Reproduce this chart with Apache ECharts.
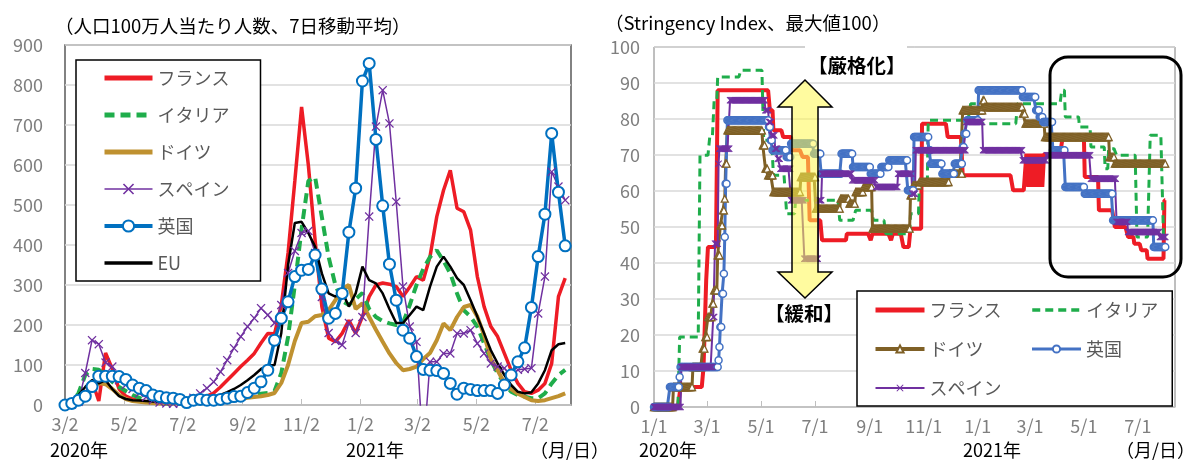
<!DOCTYPE html>
<html>
<head>
<meta charset="utf-8">
<script src="https://cdn.jsdelivr.net/npm/echarts@6/dist/echarts.min.js"></script>
<style>
html, body { margin: 0; padding: 0; background: #fff; }
#chart { width: 1190px; height: 462px; }
</style>
</head>
<body>
<div id="chart"></div>
<script>
// 新規感染者数（人口100万人当たり、7日移動平均）、2020/3/2から週次
const franceCases = [0, 1, 5, 25, 60, 10, 130, 90, 40, 22,
  15, 10, 8, 6, 5, 6, 7, 8, 10, 12,
  16, 22, 30, 45, 62, 79, 96, 112, 129, 155,
  179, 178, 250, 380, 560, 745, 600, 412, 246, 167,
  158, 179, 212, 179, 221, 271, 300, 305, 302, 296,
  271, 295, 321, 312, 371, 471, 537, 587, 492, 483,
  437, 321, 246, 196, 171, 129, 87, 54, 33, 29,
  37, 54, 104, 271, 317]
const italyCases = [0, 5, 30, 75, 90, 88, 75, 58, 45, 35,
  25, 18, 10, 6, 4, 3, 3, 3, 4, 4,
  5, 6, 7, 9, 11, 14, 18, 22, 25, 28,
  30, 35, 80, 170, 300, 440, 560, 570, 470, 370,
  300, 260, 250, 265, 280, 240, 220, 210, 204, 200,
  205, 250, 300, 340, 370, 387, 360, 329, 279, 237,
  221, 196, 154, 112, 79, 54, 33, 25, 21, 17,
  17, 29, 54, 75, 88]
const germanyCases = [0, 1, 5, 20, 40, 55, 52, 40, 25, 15,
  10, 8, 6, 5, 4, 4, 4, 4, 4, 5,
  5, 6, 7, 8, 9, 12, 15, 18, 20, 22,
  25, 30, 55, 100, 160, 205, 208, 222, 225, 237,
  262, 290, 300, 240, 254, 220, 188, 158, 129, 105,
  87, 90, 96, 115, 130, 162, 204, 187, 220, 245,
  250, 221, 175, 115, 87, 55, 40, 28, 20, 12,
  10, 12, 17, 22, 29]
const spainCases = [0, 1, 8, 80, 162, 152, 106, 96, 62, 50,
  40, 30, 20, 12, 6, 4, 3, 4, 7, 18,
  29, 42, 58, 83, 112, 142, 171, 196, 217, 242,
  225, 205, 250, 330, 385, 430, 435, 380, 270, 180,
  160, 150, 205, 180, 220, 471, 696, 787, 704, 508,
  296, 196, 158, -120, 108, 108, 129, 129, 179, 179,
  187, 154, 129, 104, 96, 92, 71, 88, 90, 92,
  229, 321, 583, 546, 512]
const ukCases = [0, 4, 12, 22, 46, 72, 72, 72, 71, 64,
  50, 42, 36, 25, 21, 18, 17, 14, 6, 12,
  14, 12, 12, 14, 17, 21, 22, 31, 42, 58,
  87, 162, 217, 258, 321, 337, 339, 375, 290, 217,
  229, 279, 432, 542, 810, 854, 664, 498, 352, 262,
  187, 167, 121, 89, 87, 86, 79, 54, 27, 42,
  39, 36, 36, 36, 29, 50, 75, 108, 143, 244,
  371, 477, 679, 532, 398]
const euCases = [0, 8, 25, 45, 62, 54, 62, 40, 22, 15,
  12, 11, 10, 9, 8, 8, 8, 8, 8, 10,
  12, 15, 20, 25, 32, 40, 50, 62, 75, 90,
  98, 100, 180, 350, 455, 458, 430, 396, 329, 279,
  271, 283, 246, 279, 346, 312, 304, 279, 240, 205,
  205, 225, 246, 237, 296, 346, 371, 346, 317, 300,
  262, 221, 179, 137, 104, 75, 50, 33, 29, 32,
  54, 87, 137, 152, 155]
const caseTickDates = ['2020-03-02', '2020-05-02', '2020-07-02', '2020-09-02', '2020-11-02',
  '2021-01-02', '2021-03-02', '2021-05-02', '2021-07-02']
const caseTickLabels = ['3/2', '5/2', '7/2', '9/2', '11/2', '1/2', '3/2', '5/2', '7/2']

// Stringency Index、[2020/1/1からの日数, 値]（値が変わった日だけ）
const franceIndex = [[0, 0], [30, 5.56], [56, 11.11], [59, 35.19], [61, 44.44], [72, 87.96],
  [131, 82.41], [135, 76.85], [146, 75], [156, 71.3], [168, 69.44], [176, 51.85], [190, 46.3],
  [218, 48.15], [245, 46.3], [247, 48.15], [268, 46.3], [270, 48.15], [282, 44.44], [290, 49.54],
  [303, 78.7], [332, 75], [349, 64.35], [406, 60.19], [421, 70.37], [423, 61.11], [425, 70.37],
  [427, 61.11], [429, 70.37], [431, 61.11], [433, 70.37], [435, 61.11], [437, 70.37], [439, 61.11],
  [441, 70.37], [444, 69.91], [462, 75], [487, 63.89], [503, 54.63], [521, 50], [536, 47.22],
  [543, 45.37], [551, 43.52], [558, 41.2], [577, 57.41]]
const italyIndex = [[0, 0], [29, 19.44], [52, 69.91], [63, 75], [68, 85.19], [72, 91.67], [98, 93.52],
  [124, 74.07], [135, 64.35], [150, 53.7], [160, 57.41], [210, 51.85], [228, 54.63], [248, 51.85],
  [262, 48.15], [290, 53.7], [300, 62.04], [310, 79.63], [358, 84.26], [370, 78.7], [411, 84.26],
  [461, 87.96], [465, 80.56], [481, 77.78], [494, 72.22], [510, 66.2], [514, 71.76], [523, 69.91],
  [546, 47.22], [561, 75.46], [576, 47.22]]
const germanyIndex = [[0, 0], [22, 5.56], [44, 11.11], [55, 16.2], [58, 19.44], [61, 25], [66, 28.7],
  [68, 32.41], [72, 42.13], [75, 50.46], [78, 54.63], [80, 57.87], [81, 67.59], [83, 76.85],
  [123, 72.69], [126, 66.2], [129, 64.35], [135, 59.72], [166, 63.89], [183, 55.09], [211, 57.87],
  [221, 56.48], [228, 59.72], [237, 61.11], [247, 49.54], [290, 58.8], [293, 61.57], [300, 62.5],
  [334, 64.81], [349, 82.41], [372, 85.19], [374, 83.33], [417, 81.48], [420, 78.7], [442, 75],
  [515, 69.44], [521, 67.59]]
const ukIndex = [[0, 0], [18, 5.56], [29, 8.33], [30, 11.11], [73, 12.96], [74, 16.67], [75, 22.22],
  [77, 31.48], [79, 37.04], [80, 47.22], [81, 62.04], [83, 79.63], [130, 77.78], [132, 74.07],
  [134, 71.3], [150, 69.44], [155, 73.15], [181, 70.37], [189, 64.81], [212, 70.37], [225, 66.67],
  [245, 64.81], [257, 66.67], [266, 68.52], [287, 60.19], [294, 75], [311, 71.3], [313, 67.59],
  [326, 64.81], [340, 67.59], [349, 72.22], [351, 75.93], [354, 79.63], [367, 87.96], [417, 86.11],
  [432, 82.41], [436, 80.56], [440, 79.17], [451, 71.3], [465, 61.11], [487, 59.26], [519, 51.85],
  [565, 44.44]]
const spainIndex = [[0, 0], [31, 11.11], [67, 25], [69, 45.37], [73, 67.59], [74, 71.76], [86, 85.19],
  [126, 82.41], [130, 79.17], [133, 75.46], [137, 71.76], [140, 68.98], [143, 66.2], [155, 57.41],
  [170, 41.2], [186, 57.41], [190, 64.81], [224, 62.96], [251, 61.11], [276, 64.81], [292, 59.26],
  [296, 71.3], [353, 79.17], [372, 71.3], [417, 68.52], [444, 69.91], [494, 63.43], [523, 51.39],
  [536, 48.61], [572, 47.22]]
const indexLastDay = 578
const indexTickDates = ['2020-01-01', '2020-03-01', '2020-05-01', '2020-07-01', '2020-09-01',
  '2020-11-01', '2021-01-01', '2021-03-01', '2021-05-01', '2021-07-01']
const indexTickLabels = ['1/1', '3/1', '5/1', '7/1', '9/1', '11/1', '1/1', '3/1', '5/1', '7/1']

const FONT = "'Noto Sans CJK JP', sans-serif"
const RED = '#ee1c25'
const GREEN = '#1fad4b'
const GOLD = '#bf9130'
const PURPLE = '#7030a0'
const BLUE = '#0070c0'
const BROWN = '#7f6026'
const BLUE2 = '#4472c4'
const CROSS = 'path://M2,0L10,8L18,0L20,2L12,10L20,18L18,20L10,12L2,20L0,18L8,10L0,2Z'

// 日付はタイムスタンプにして数値軸に載せる
const ts = s => {
  const [y, m, d] = s.split('-').map(Number)
  return new Date(y, m - 1, d).getTime()
}
const weekly = vals => vals.map((v, i) => [new Date(2020, 2, 2 + 7 * i).getTime(), v])
const daily = steps => {
  const out = []
  let k = 0
  for (let d = 0; d <= indexLastDay; d++) {
    while (k + 1 < steps.length && steps[k + 1][0] <= d) k++
    out.push([new Date(2020, 0, 1 + d).getTime(), steps[k][1]])
  }
  return out
}
const caseTicks = caseTickDates.map(ts)
const indexTicks = indexTickDates.map(ts)
const tickText = (ticks, labels) => v => {
  let best = 0
  ticks.forEach((t, i) => { if (Math.abs(t - v) < Math.abs(ticks[best] - v)) best = i })
  return labels[best]
}

const axisText = { fontSize: 18, color: '#7f7f7f', fontFamily: FONT }
const xAxisBase = (grid, min, max, ticks, labels) => ({
  type: 'value', gridIndex: grid, min: min, max: max,
  axisLine: { show: true, onZero: false, lineStyle: { color: '#bfbfbf', width: 1.5 } },
  axisTick: { show: true, inside: true, length: 6, customValues: ticks, lineStyle: { color: '#bfbfbf' } },
  axisLabel: Object.assign({ customValues: ticks, formatter: tickText(ticks, labels), margin: 10 }, axisText),
  splitLine: { show: false }
})
// 凡例：マーカーなしの系列は線だけ、線は太めに
const legendItem = (name, width, marker, type) => ({
  name: name,
  itemStyle: marker ? undefined : { opacity: 0 },
  lineStyle: { width: width, type: type || 'solid' }
})
const yearText = (x, text) => ({ type: 'text', left: x, top: 441, style: { text: text, fontSize: 18, fontFamily: FONT, fill: '#000' } })

const chart = echarts.init(document.getElementById('chart'))
chart.setOption({
  animation: false,
  textStyle: { fontFamily: FONT },
  grid: [
    { left: 65, right: 619, top: 45, bottom: 57, show: true, borderColor: '#595959', borderWidth: 1.5 },
    { left: 654, right: 15, top: 47, bottom: 55, show: true, borderColor: '#7f7f7f', borderWidth: 1 }
  ],
  xAxis: [
    xAxisBase(0, ts('2020-03-02'), ts('2021-08-08'), caseTicks, caseTickLabels),
    xAxisBase(1, ts('2020-01-01'), ts('2021-08-12'), indexTicks, indexTickLabels)
  ],
  yAxis: [
    {
      type: 'value', gridIndex: 0, min: 0, max: 900, interval: 100,
      axisLine: { show: false }, axisTick: { show: false },
      splitLine: { lineStyle: { color: '#d9d9d9', width: 1.5 } },
      axisLabel: Object.assign({ margin: 22 }, axisText)
    },
    {
      type: 'value', gridIndex: 1, min: 0, max: 100, interval: 10,
      axisLine: { show: false }, axisTick: { show: false },
      splitLine: { lineStyle: { color: '#d9d9d9', width: 1.5 } },
      axisLabel: Object.assign({ margin: 14 }, axisText)
    }
  ],
  legend: [
    {
      left: 76, top: 60, orient: 'vertical', itemWidth: 48, itemHeight: 14, itemGap: 17,
      padding: [8, 31, 8, 26], borderColor: '#000', borderWidth: 1.5, backgroundColor: '#fff',
      selectedMode: false,
      textStyle: { fontSize: 18, color: '#595959', lineHeight: 20, fontFamily: FONT },
      data: [
        legendItem('フランス', 5),
        legendItem('イタリア', 5, false, [10, 6]),
        legendItem('ドイツ', 5),
        legendItem('スペイン', 1.5, true),
        legendItem('英国', 4, true),
        legendItem('EU', 3.5)
      ]
    },
    {
      left: 857, top: 291, orient: 'horizontal', width: 295, itemWidth: 49, itemHeight: 9, itemGap: 21,
      padding: [10, 6, 9, 16], borderColor: '#000', borderWidth: 1.5, backgroundColor: '#fff',
      selectedMode: false,
      formatter: n => n.split(':')[1],
      textStyle: { fontSize: 18, color: '#595959', lineHeight: 14, width: 80, fontFamily: FONT },
      data: [
        legendItem('idx:フランス', 5),
        legendItem('idx:イタリア', 3.5, false, [8, 5]),
        legendItem('idx:ドイツ', 4, true),
        legendItem('idx:英国', 3, true),
        legendItem('idx:スペイン', 2, true)
      ]
    }
  ],
  series: [
    { name: 'フランス', type: 'line', xAxisIndex: 0, yAxisIndex: 0, data: weekly(franceCases), silent: true,
      symbol: 'none', lineStyle: { color: RED, width: 3.5 }, itemStyle: { color: RED } },
    { name: 'イタリア', type: 'line', xAxisIndex: 0, yAxisIndex: 0, data: weekly(italyCases), silent: true,
      symbol: 'none', lineStyle: { color: GREEN, width: 4, type: [10, 6] }, itemStyle: { color: GREEN } },
    { name: 'ドイツ', type: 'line', xAxisIndex: 0, yAxisIndex: 0, data: weekly(germanyCases), silent: true,
      symbol: 'none', lineStyle: { color: GOLD, width: 4 }, itemStyle: { color: GOLD } },
    { name: 'スペイン', type: 'line', xAxisIndex: 0, yAxisIndex: 0, data: weekly(spainCases), silent: true,
      symbol: CROSS, symbolSize: 9, showAllSymbol: true,
      lineStyle: { color: PURPLE, width: 1.5 }, itemStyle: { color: PURPLE } },
    { name: '英国', type: 'line', xAxisIndex: 0, yAxisIndex: 0, data: weekly(ukCases), silent: true,
      symbol: 'circle', symbolSize: 11, showAllSymbol: true,
      lineStyle: { color: BLUE, width: 3.5 }, itemStyle: { color: '#fff', borderColor: BLUE, borderWidth: 2 } },
    { name: 'EU', type: 'line', xAxisIndex: 0, yAxisIndex: 0, data: weekly(euCases), silent: true,
      symbol: 'none', lineStyle: { color: '#000', width: 2.5 }, itemStyle: { color: '#000' } },

    { name: 'idx:フランス', type: 'line', xAxisIndex: 1, yAxisIndex: 1, data: daily(franceIndex), silent: true,
      symbol: 'none', lineStyle: { color: RED, width: 4 }, itemStyle: { color: RED } },
    { name: 'idx:イタリア', type: 'line', xAxisIndex: 1, yAxisIndex: 1, data: daily(italyIndex), silent: true,
      symbol: 'none', lineStyle: { color: GREEN, width: 3, type: [8, 5] }, itemStyle: { color: GREEN } },
    { name: 'idx:ドイツ', type: 'line', xAxisIndex: 1, yAxisIndex: 1, data: daily(germanyIndex), silent: true,
      symbol: 'triangle', symbolSize: 7, showAllSymbol: true,
      lineStyle: { color: BROWN, width: 3 }, itemStyle: { color: '#fff', borderColor: BROWN, borderWidth: 1.3 } },
    { name: 'idx:英国', type: 'line', xAxisIndex: 1, yAxisIndex: 1, data: daily(ukIndex), silent: true,
      symbol: 'circle', symbolSize: 7, showAllSymbol: true,
      lineStyle: { color: BLUE2, width: 3 }, itemStyle: { color: '#fff', borderColor: BLUE2, borderWidth: 1.5 } },
    { name: 'idx:スペイン', type: 'line', xAxisIndex: 1, yAxisIndex: 1, data: daily(spainIndex), silent: true,
      symbol: CROSS, symbolSize: 7, showAllSymbol: true,
      lineStyle: { color: PURPLE, width: 2 }, itemStyle: { color: PURPLE } }
  ],
  graphic: [
    { type: 'text', left: 55, top: 17, style: { text: '（人口100万人当たり人数、7日移動平均）', fontSize: 18.5, fontFamily: FONT, fill: '#000' } },
    { type: 'text', left: 605, top: 14, style: { text: '（Stringency Index、最大値100）', fontSize: 18.5, fontFamily: FONT, fill: '#000' } },
    yearText(50, '2020年'),
    yearText(346, '2021年'),
    yearText(530, '（月/日）'),
    yearText(639, '2020年'),
    yearText(963, '2021年'),
    yearText(1116, '（月/日）'),
    { type: 'rect', z: 99, shape: { x: 805, y: 40, width: 102, height: 42 }, style: { fill: '#fff' } },
    { type: 'text', z: 100, left: 808, top: 56, style: { text: '【厳格化】', fontSize: 19.5, fontWeight: 'bold', fontFamily: FONT, fill: '#000' } },
    { type: 'text', z: 100, left: 765, top: 304, style: { text: '【緩和】', fontSize: 19.5, fontWeight: 'bold', fontFamily: FONT, fill: '#000' } },
    { type: 'polygon', z: 100,
      shape: { points: [[805, 80], [832, 107], [818, 107], [818, 272], [832, 272], [805, 298],
        [778, 272], [792, 272], [792, 107], [778, 107]] },
      style: { fill: 'rgba(255, 248, 80, 0.55)', stroke: '#000', lineWidth: 1.5 } },
    { type: 'rect', z: 100, shape: { x: 1050, y: 57, width: 131, height: 220, r: 18 },
      style: { fill: 'transparent', stroke: '#000', lineWidth: 3 } }
  ]
})
</script>
</body>
</html>
